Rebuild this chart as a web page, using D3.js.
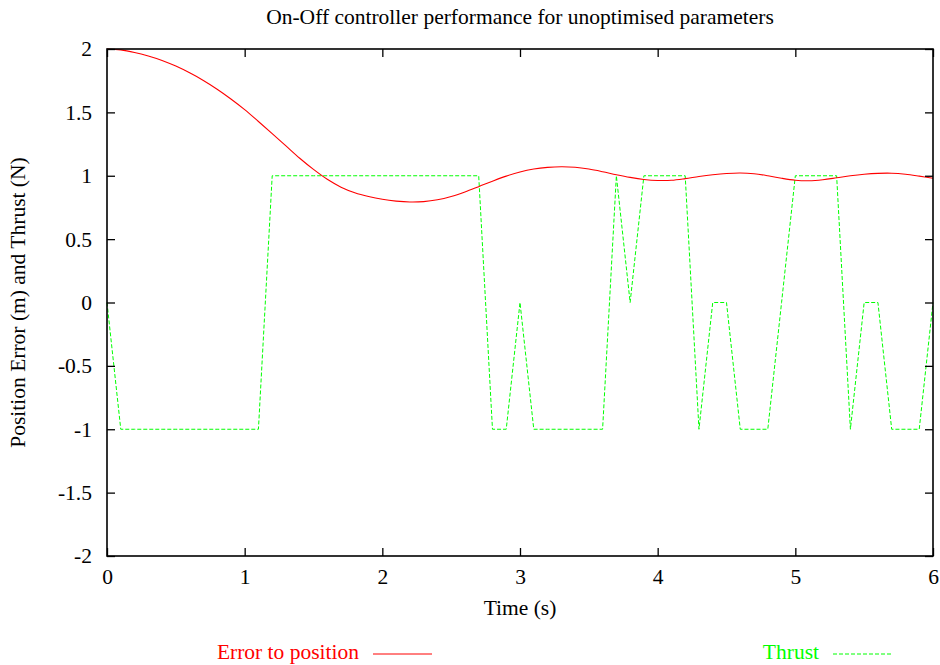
<!DOCTYPE html>
<html>
<head>
<meta charset="utf-8">
<script src="https://cdn.jsdelivr.net/npm/d3@7"></script>
<style>
  html, body { margin: 0; padding: 0; background: #fff; }
  svg text { font-family: "Liberation Serif", "DejaVu Serif", serif; }
</style>
</head>
<body>
<svg id="chart" width="940" height="665"></svg>
<script>
// Sample times (s), 0.1 s step
const timeSteps = [
  0.0,0.1,0.2,0.3,0.4,0.5,0.6,0.7,0.8,0.9,
  1.0,1.1,1.2,1.3,1.4,1.5,1.6,1.7,1.8,1.9,
  2.0,2.1,2.2,2.3,2.4,2.5,2.6,2.7,2.8,2.9,
  3.0,3.1,3.2,3.3,3.4,3.5,3.6,3.7,3.8,3.9,
  4.0,4.1,4.2,4.3,4.4,4.5,4.6,4.7,4.8,4.9,
  5.0,5.1,5.2,5.3,5.4,5.5,5.6,5.7,5.8,5.9,
  6.0
];

// Position error (m)
const errorValues = [
  2.000,1.993,1.973,1.945,1.910,1.865,1.812,1.752,1.683,1.606,
  1.522,1.428,1.332,1.235,1.138,1.050,0.972,0.910,0.866,0.836,
  0.814,0.800,0.793,0.796,0.810,0.836,0.872,0.914,0.957,0.997,
  1.030,1.053,1.066,1.071,1.067,1.053,1.032,1.008,0.987,0.971,
  0.963,0.964,0.977,0.994,1.008,1.018,1.022,1.016,1.000,0.980,
  0.965,0.961,0.969,0.984,1.000,1.012,1.019,1.020,1.012,0.997,
  0.980
];

// Thrust (N)
const thrustValues = [
  0,-1,-1,-1,-1,-1,-1,-1,-1,-1,
  -1,-1,1,1,1,1,1,1,1,1,
  1,1,1,1,1,1,1,1,-1,-1,
  0,-1,-1,-1,-1,-1,-1,1,0,1,
  1,1,1,-1,0,0,-1,-1,-1,0,
  1,1,1,1,-1,0,0,-1,-1,-1,
  0
];

const xTicks = [0,1,2,3,4,5,6];
const yTicks = [-2,-1.5,-1,-0.5,0,0.5,1,1.5,2];

const seriesNames = ["Error to position", "Thrust"];

const svg = d3.select("#chart");
const margin = { left: 107, right: 7, top: 49, bottom: 109 };
const W = 940, H = 665;
const iw = W - margin.left - margin.right;
const ih = H - margin.top - margin.bottom;

const x = d3.scaleLinear().domain([0, 6]).range([margin.left, margin.left + iw]);
const y = d3.scaleLinear().domain([-2, 2]).range([margin.top + ih, margin.top]);

const tickLen = 8;
const fontSize = 21.5;

// Plot data
const errorLine = d3.line()
  .x((d, i) => x(timeSteps[i]))
  .y(d => y(d))
  .curve(d3.curveCatmullRom.alpha(0.5));

const thrustLine = d3.line()
  .x((d, i) => x(timeSteps[i]))
  .y(d => y(d));

const plot = svg.append("g");

plot.append("path")
  .datum(thrustValues)
  .attr("d", thrustLine)
  .attr("fill", "none")
  .attr("stroke", "#00ff00")
  .attr("stroke-width", 1)
  .attr("stroke-dasharray", "4,2");

plot.append("path")
  .datum(errorValues)
  .attr("d", errorLine)
  .attr("fill", "none")
  .attr("stroke", "#ff0000")
  .attr("stroke-width", 1.1);

// Axes: ticks pointing inward on all four sides
const axisBottom = d3.axisBottom(x).tickValues(xTicks).tickSizeInner(-tickLen).tickSizeOuter(0).tickPadding(13).tickFormat(d3.format("d"));
const axisTop = d3.axisTop(x).tickValues(xTicks).tickSizeInner(-tickLen).tickSizeOuter(0).tickFormat("");
const axisLeft = d3.axisLeft(y).tickValues(yTicks).tickSizeInner(-tickLen).tickSizeOuter(0).tickPadding(15).tickFormat(d => d3.format("")(d).replace("−", "-"));
const axisRight = d3.axisRight(y).tickValues(yTicks).tickSizeInner(-tickLen).tickSizeOuter(0).tickFormat("");

function styleAxis(g) {
  g.select(".domain").remove();
  g.selectAll(".tick line").attr("stroke", "#000").attr("stroke-width", 1.3);
  g.selectAll(".tick text")
    .attr("fill", "#000")
    .style("font-size", fontSize + "px")
    .style("font-family", "'Liberation Serif', serif");
}

svg.append("g").attr("transform", `translate(0,${margin.top + ih})`).call(axisBottom).call(styleAxis);
svg.append("g").attr("transform", `translate(0,${margin.top})`).call(axisTop).call(styleAxis);
svg.append("g").attr("transform", `translate(${margin.left},0)`).call(axisLeft).call(styleAxis);
svg.append("g").attr("transform", `translate(${margin.left + iw},0)`).call(axisRight).call(styleAxis);

// Frame
svg.append("rect")
  .attr("x", margin.left).attr("y", margin.top)
  .attr("width", iw).attr("height", ih)
  .attr("fill", "none").attr("stroke", "#000").attr("stroke-width", 1.6);

// Title
svg.append("text")
  .attr("x", margin.left + iw / 2).attr("y", 24)
  .attr("text-anchor", "middle")
  .style("font-size", fontSize + "px")
  .text("On-Off controller performance for unoptimised parameters");

// Axis titles
svg.append("text")
  .attr("x", margin.left + iw / 2).attr("y", 615)
  .attr("text-anchor", "middle")
  .style("font-size", fontSize + "px")
  .text("Time (s)");

svg.append("text")
  .attr("transform", `translate(25,${margin.top + ih / 2}) rotate(-90)`)
  .attr("text-anchor", "middle")
  .style("font-size", fontSize + "px")
  .text("Position Error (m) and Thrust (N)");

// Legend
const legendItems = [
  { name: seriesNames[0], color: "#ff0000", dash: null, textEnd: 359, lineStart: 373 },
  { name: seriesNames[1], color: "#00ff00", dash: "4,2", textEnd: 819, lineStart: 833 }
];
const legendY = 654;
legendItems.forEach(item => {
  svg.append("text")
    .attr("x", item.textEnd).attr("y", legendY + 5)
    .attr("text-anchor", "end")
    .attr("fill", item.color)
    .style("font-size", fontSize + "px")
    .text(item.name);
  svg.append("line")
    .attr("x1", item.lineStart).attr("x2", item.lineStart + 59)
    .attr("y1", legendY).attr("y2", legendY)
    .attr("stroke", item.color)
    .attr("stroke-width", 1)
    .attr("stroke-dasharray", item.dash);
});
</script>
</body>
</html>
